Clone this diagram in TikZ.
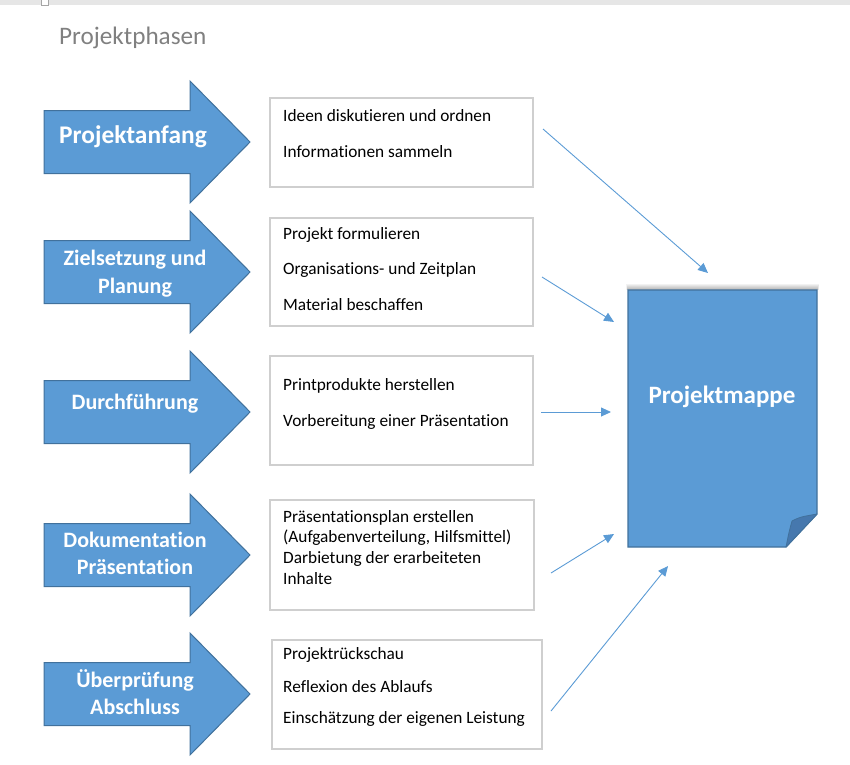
\documentclass[tikz,border=0pt]{standalone}
\usepackage{fontspec}
\setmainfont{Carlito}[Ligatures={NoCommon}]
\usetikzlibrary{arrows.meta}
\definecolor{phasefill}{HTML}{5B9BD5}
\definecolor{phaseline}{HTML}{41719C}
\definecolor{flapfill}{HTML}{4678AE}
\definecolor{boxline}{HTML}{CFCFCF}
\definecolor{titlegray}{HTML}{808080}
\definecolor{topbar}{HTML}{E6E6E6}
\tikzset{
  phase/.style={fill=phasefill, draw=phaseline, line width=1pt, line join=miter},
  phaselabel/.style={anchor=base, inner sep=0pt, text=white, font=\fontsize{22}{26}\selectfont\bfseries},
  infobox/.style={draw=boxline, line width=1.5pt, fill=white, anchor=north west, inner sep=0pt},
  infotext/.style={anchor=base west, inner sep=0pt, font=\fontsize{17.3}{20}\selectfont},
  link/.style={draw=phasefill, line width=0.9pt, -{Triangle[length=10pt,width=9pt]}},
}
\newcommand\phasearrow[1]{%
  \draw[phase] (44,#1-31.5) -- (190,#1-31.5) -- (190,#1-61) -- (250,#1) --
    (190,#1+61) -- (190,#1+31.5) -- (44,#1+31.5) -- cycle;}
\begin{document}
\begin{tikzpicture}[x=1pt,y=-1pt]
\useasboundingbox (0,0) rectangle (850,764);
% top bar
\fill[topbar] (0,0) rectangle (850,5);
\draw[gray!70, fill=white, line width=0.8pt] (41,-2) rectangle (48,5);
% title
\node[anchor=base west, inner sep=0pt, text=titlegray, font=\fontsize{25.2}{30}\selectfont] (title) at (59,44) {Projektphasen};

% phase arrows
\phasearrow{142}
\phasearrow{272}
\phasearrow{412}
\phasearrow{555}
\phasearrow{694}
\node[phaselabel, font=\fontsize{25.4}{30}\selectfont\bfseries] (l1) at (133,143) {Projektanfang};
\node[phaselabel] (l2a) at (135,265) {Zielsetzung und};
\node[phaselabel] (l2b) at (135,293) {Planung};
\node[phaselabel] (l3) at (135,409) {Durchführung};
\node[phaselabel] (l4a) at (135,547) {Dokumentation};
\node[phaselabel] (l4b) at (135,574) {Präsentation};
\node[phaselabel] (l5a) at (135,687) {Überprüfung};
\node[phaselabel] (l5b) at (135,714) {Abschluss};

% boxes
\node[infobox, minimum width=263pt, minimum height=89pt] (b1) at (269,97) {};
\node[infobox, minimum width=263pt, minimum height=108pt] (b2) at (269,217) {};
\node[infobox, minimum width=263pt, minimum height=109pt] (b3) at (269,355) {};
\node[infobox, minimum width=264pt, minimum height=110pt] (b4) at (269,499) {};
\node[infobox, minimum width=270pt, minimum height=109pt] (b5) at (271,639) {};

\node[infotext] (t11) at (283,121) {Ideen diskutieren und ordnen};
\node[infotext] (t12) at (283,157) {Informationen sammeln};
\node[infotext] (t21) at (283,239) {Projekt formulieren};
\node[infotext] (t22) at (283,274) {Organisations- und Zeitplan};
\node[infotext] (t23) at (283,310) {Material beschaffen};
\node[infotext] (t31) at (283,390) {Printprodukte herstellen};
\node[infotext] (t32) at (283,426) {Vorbereitung einer Präsentation};
\node[infotext] (t41) at (283,522) {Präsentationsplan erstellen};
\node[infotext] (t42) at (283,542) {(Aufgabenverteilung, Hilfsmittel)};
\node[infotext] (t43) at (283,563) {Darbietung der erarbeiteten};
\node[infotext] (t44) at (283,584) {Inhalte};
\node[infotext] (t51) at (283,659) {Projektrückschau};
\node[infotext] (t52) at (283,692) {Reflexion des Ablaufs};
\node[infotext] (t53) at (283,723) {Einschätzung der eigenen Leistung};

% document shadow
\foreach \i in {1,...,6}{
  \fill[black, opacity=0.05] (628-0.3*\i,290-\i) rectangle (817+0.3*\i,290);
}
% document
\draw[phase, line width=1.3pt] (628,290) -- (817,290) -- (817,514) -- (786,547) -- (628,547) -- cycle;
\draw[fill=flapfill, draw=phaseline, line width=0.8pt, line join=round]
  (817,514) .. controls (800,517) .. (792,521) .. controls (789,532) .. (786,547) -- cycle;
\node[anchor=base, inner sep=0pt, text=white, font=\fontsize{25}{30}\selectfont\bfseries] (doc) at (722,403) {Projektmappe};

% connectors
\coordinate (s1) at (543,129); \coordinate (e1) at (708,273);
\coordinate (s2) at (542,277); \coordinate (e2) at (614,322);
\coordinate (s3) at (541,412); \coordinate (e3) at (611,412);
\coordinate (s4) at (551,573); \coordinate (e4) at (614,534);
\coordinate (s5) at (551,711); \coordinate (e5) at (668,566);
\draw[link] (s1) -- (e1);
\draw[link] (s2) -- (e2);
\draw[link] (s3) -- (e3);
\draw[link] (s4) -- (e4);
\draw[link] (s5) -- (e5);
\end{tikzpicture}
\end{document}
